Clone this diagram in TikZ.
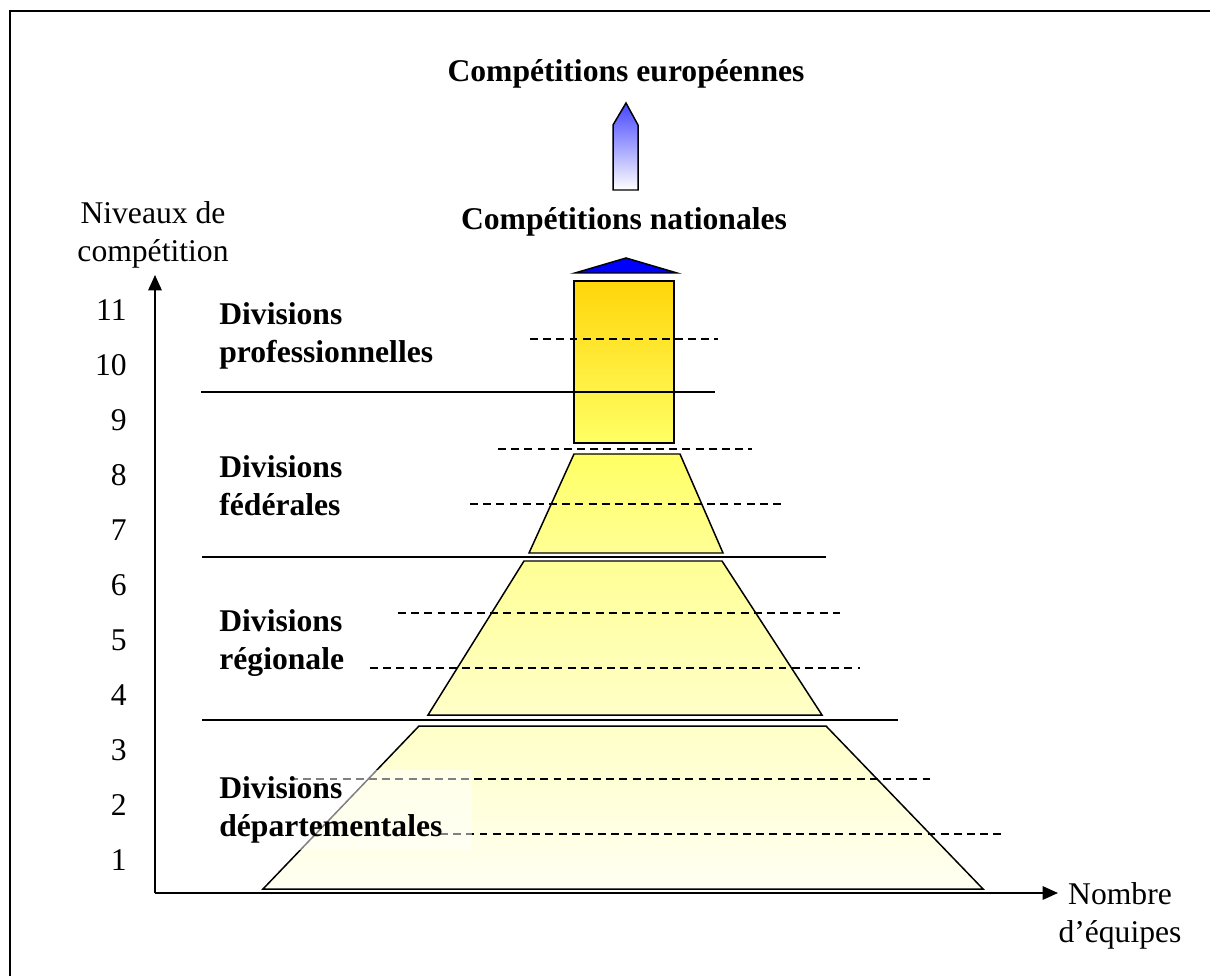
\documentclass[tikz,border=0pt]{standalone}
\usepackage{fontspec}
\setmainfont{Liberation Serif}
\usepackage{tikz}
\usetikzlibrary{arrows.meta, positioning}

\definecolor{gold}{RGB}{255,214,10}
\definecolor{paleyellow}{RGB}{255,255,100}
\definecolor{lightyellow}{RGB}{255,255,150}
\definecolor{creamyellow}{RGB}{255,255,200}
\definecolor{ivory}{RGB}{255,255,242}
\definecolor{arrowblue}{RGB}{70,70,255}

\tikzset{
	txt/.style={font=\fontsize{18}{21.6}\selectfont, inner sep=0pt},
	title/.style={txt, font=\fontsize{18}{21.6}\selectfont\bfseries},
	division/.style={title, align=left, anchor=west},
	level/.style={line width=.85pt},
	guide/.style={line width=.8pt, dash pattern=on 4.5pt off 3pt},
	block/.style={line width=.85pt, draw=black},
	axis/.style={line width=1.1pt, -{Triangle[length=3.1mm, width=2.7mm]}}
}

\begin{document}
\begin{tikzpicture}[x=0.02cm, y=-0.02cm]
					\useasboundingbox (0,0) rectangle (1210,976);
					% Frame
					\draw[line width=1.4pt] (10,976) -- (10,11) -- (1210,11);
					
					% Axes
					\coordinate (origin) at (155,893);
					\coordinate (ytip) at (155,275);
					\coordinate (xtip) at (1058,893);
					\draw[axis] (origin) -- (ytip);
					\draw[axis] (origin) -- (xtip);
					\node[txt, align=center] (ylabel) at (153,235) {Niveaux de\\compétition};
					\node[txt, align=center] (xlabel) at (1120,916) {Nombre\\d’équipes};
					\foreach \n in {1,...,11}
						\node[txt, anchor=east] (tick\n) at (127,915-55*\n) {\n};
					
					% Pyramid
					\draw[block, top color=gold, bottom color=paleyellow] (574,281) rectangle (674,443);
					\draw[block, fill=blue] (575,273) -- (626,258) -- (677,273) -- cycle;
					\draw[block, top color=paleyellow, bottom color=lightyellow] (574,454) -- (680,454) -- (723,553) -- (529,553) -- cycle;
					\draw[block, top color=lightyellow, bottom color=creamyellow] (524,561) -- (722,561) -- (822,715) -- (428,715) -- cycle;
					\draw[block, top color=creamyellow, bottom color=ivory] (419,726) -- (826,726) -- (983,889) -- (263,889) -- cycle;
					\draw[block, top color=arrowblue, bottom color=white] (613,190) -- (613,125) -- (626,103) -- (638,125) -- (638,190) -- cycle;
					
					% Levels
					\foreach \y/\a/\b in {392/201/715, 557/202/826, 720/202/898}
						\draw[level] (\a,\y) -- (\b,\y);
					\foreach \y/\a/\b in {339/530/718, 449/498/752, 504/470/786, 613/398/840, 668/370/860, 779/290/930, 834/440/1005}
						\draw[guide] (\a,\y) -- (\b,\y);
					
					% Labels
					\node[title] (europe) at (626,74) {Compétitions européennes};
					\node[title] (nation) at (624,222) {Compétitions nationales};
					\node[division] (pro) at (219,336) {Divisions\\professionnelles};
					\node[division] (fed) at (219,486) {Divisions\\fédérales};
					\node[division] (reg) at (219,643) {Divisions\\régionale};
					\node[division, fill=white, fill opacity=.5, text opacity=1, inner xsep=0pt, inner ysep=4pt, text width=5.06cm] (dep) at (219,810) {Divisions\\départementales};
				\end{tikzpicture}
\end{document}
